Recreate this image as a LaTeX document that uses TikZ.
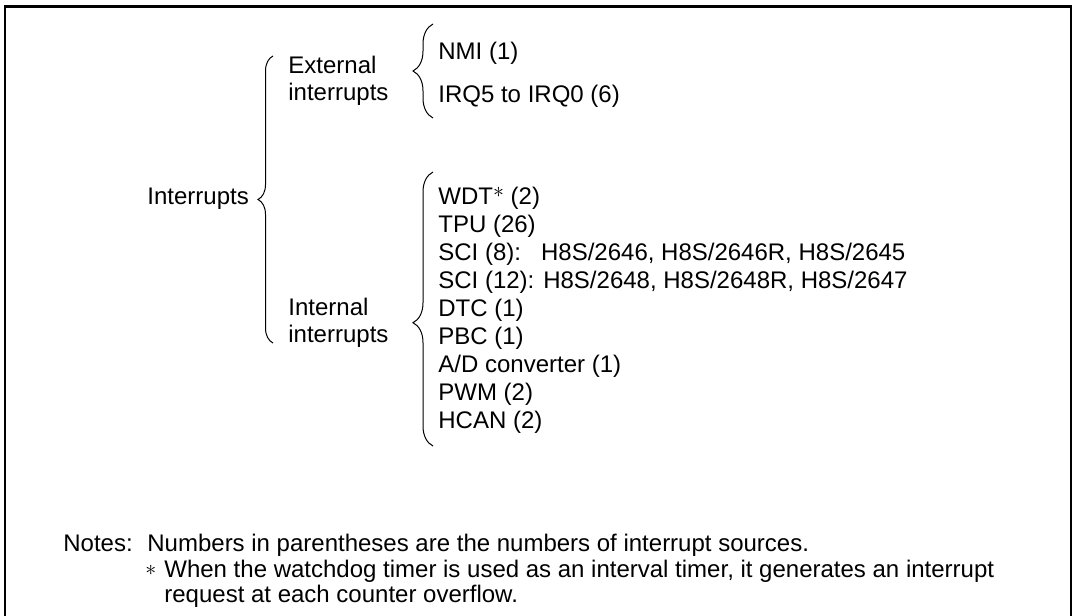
\documentclass[tikz,border=0pt]{standalone}
\usepackage{fontspec}
\setmainfont{Liberation Sans}
\usetikzlibrary{decorations.pathreplacing, positioning}

\newcommand{\staraster}{{\fontsize{10.5}{10.5}\selectfont$\ast$}}

\begin{document}
\begin{tikzpicture}[
    x=0.5pt, y=-0.5pt,
    node distance=14pt,
    txt/.style={anchor=west, inner sep=0pt, font=\fontsize{12}{13.5}\selectfont},
    row/.style={txt, text height=8.6pt, text depth=0pt},
    curly/.style={decorate, line width=0.5pt, decoration={brace, amplitude=#1}},
    frame/.style={line width=1.3pt}
]
\clip (0,0) rectangle (1074,615);

% outer frame, open at the bottom
\draw[frame] (5,640) |- (1071,6.5) -- (1071,640);

% tree labels
\node[row] (intr) at (147,196) {Interrupts};
\node[txt, align=left] (ext) at (288,80.5) {External\\interrupts};
\node[txt, align=left] (int) at (288,323) {Internal\\interrupts};

% braces
\coordinate (b1s) at (273,343);
\coordinate (b1e) at (273,56);
\coordinate (b2s) at (433,118);
\coordinate (b2e) at (433,24);
\coordinate (b3s) at (433,446);
\coordinate (b3e) at (433,172);
\draw[curly=7.5pt] (b1s) -- (b1e);
\draw[curly=10pt] (b2s) -- (b2e);
\draw[curly=10pt, decoration={aspect=0.45}] (b3s) -- (b3e);

% external sources
\node[row] (nmi) at (438,51) {NMI (1)};
\node[row] (irq) at (438,94) {IRQ5 to IRQ0 (6)};

% internal sources
\node[row] (wdt) at (438,196) {WDT\raisebox{3.6pt}{\staraster} (2)};
\node[row, below=of wdt.west, anchor=west] (tpu) {TPU (26)};
\node[row, below=of tpu.west, anchor=west] (sci8) {\makebox[4.28em][l]{SCI (8):}H8S/2646, H8S/2646R, H8S/2645};
\node[row, below=of sci8.west, anchor=west] (sci12) {SCI (12): H8S/2648, H8S/2648R, H8S/2647};
\node[row, below=of sci12.west, anchor=west] (dtc) {DTC (1)};
\node[row, below=of dtc.west, anchor=west] (pbc) {PBC (1)};
\node[row, below=of pbc.west, anchor=west] (adc) {A/D converter (1)};
\node[row, below=of adc.west, anchor=west] (pwm) {PWM (2)};
\node[row, below=of pwm.west, anchor=west] (hcan) {HCAN (2)};

% notes
\node[row] (notes) at (63,543) {Notes:};
\node[row] (num) at (147,543) {Numbers in parentheses are the numbers of interrupt sources.};
\node[row] (star) at (145,569) {\raisebox{1pt}{\staraster}};
\node[row] (when) at (164,569) {When the watchdog timer is used as an interval timer, it generates an interrupt};
\node[row, below=12.5pt of when.west, anchor=west] (req) {request at each counter overflow.};

\end{tikzpicture}
\end{document}
